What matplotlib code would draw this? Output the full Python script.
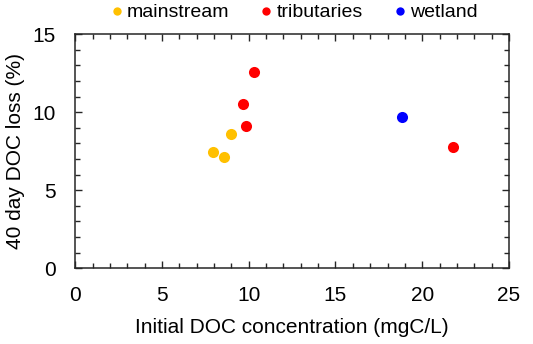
import matplotlib
matplotlib.use("Agg")
from matplotlib import pyplot as plt
from matplotlib.ticker import MultipleLocator

plt.rcParams['font.family'] = ['Liberation Sans', 'DejaVu Sans']

# data
main_x = [9.0, 7.97, 8.58]
main_y = [8.58, 7.45, 7.11]
trib_x = [10.33, 9.67, 9.84, 21.78]
trib_y = [12.55, 10.54, 9.11, 7.75]
wet_x = [18.83]
wet_y = [9.71]

fig = plt.figure(figsize=(5.33, 3.44), dpi=100)
ax = fig.add_axes([0.141, 0.22, 0.814, 0.681])

ax.plot(main_x, main_y, 'o', color='#FFC000', ms=8, mec='none', label='mainstream')
ax.plot(trib_x, trib_y, 'o', color='#FF0000', ms=8, mec='none', label='tributaries')
ax.plot(wet_x, wet_y, 'o', color='#0000FF', ms=8, mec='none', label='wetland')

ax.set_xlim(0, 25)
ax.set_ylim(0, 15)
ax.xaxis.set_major_locator(MultipleLocator(5))
ax.xaxis.set_minor_locator(MultipleLocator(1))
ax.yaxis.set_major_locator(MultipleLocator(5))
ax.yaxis.set_minor_locator(MultipleLocator(1))
ax.tick_params(which='both', direction='in', top=True, right=True, labelsize=15, color='#262626')
ax.tick_params(which='major', length=5, width=1)
ax.tick_params(which='minor', length=3.5, width=1)
ax.tick_params(axis='x', which='major', pad=13)
ax.tick_params(axis='y', which='major', pad=14)
for s in ax.spines.values():
    s.set_linewidth(1.1)
    s.set_color('#262626')

ax.set_xlabel("Initial DOC concentration (mgC/L)", fontsize=15, labelpad=9)
ax.set_ylabel("40 day DOC loss (%)", fontsize=15, labelpad=5)

ax.legend(loc='lower center', bbox_to_anchor=(0.505, 1.0), ncol=3, frameon=False,
          fontsize=14, handlelength=0.6, handletextpad=0.22, columnspacing=1.6,
          borderaxespad=0.25, markerscale=0.75)

fig.savefig("out.png", dpi=100)
